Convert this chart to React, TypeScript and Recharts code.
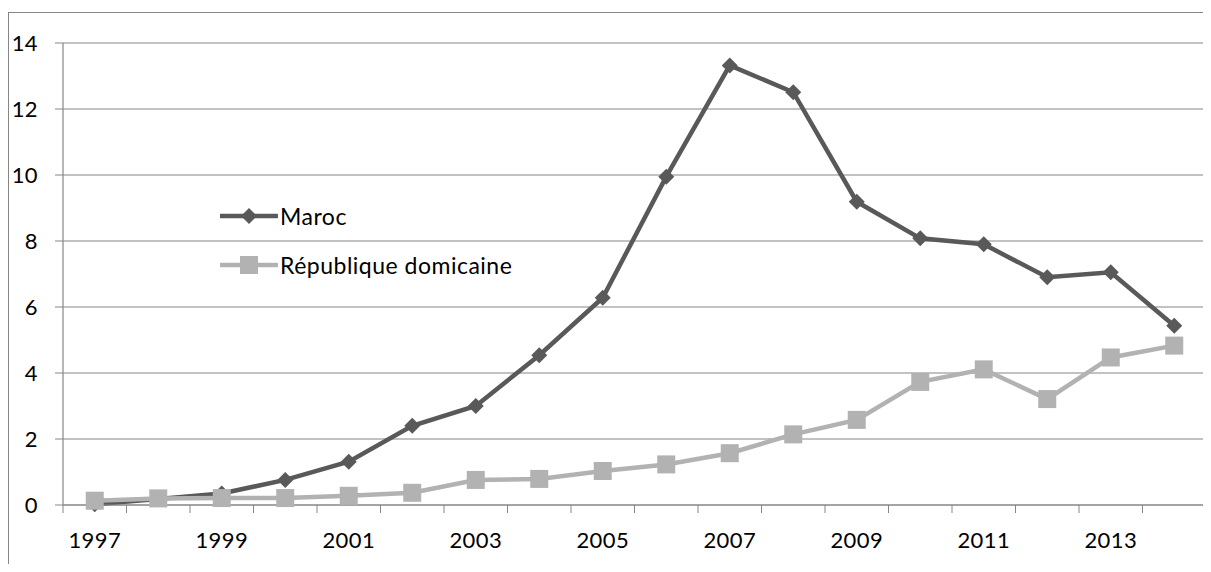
import { LineChart, Line, XAxis, YAxis, CartesianGrid } from 'recharts';

const years = [
  '1997', '1998', '1999', '2000', '2001', '2002', '2003', '2004', '2005',
  '2006', '2007', '2008', '2009', '2010', '2011', '2012', '2013', '2014',
];
const maroc = [0.02, 0.18, 0.35, 0.76, 1.31, 2.4, 3.0, 4.54, 6.28, 9.95, 13.32, 12.51, 9.19, 8.08, 7.9, 6.9, 7.05, 5.43];
const republiqueDom = [0.13, 0.2, 0.21, 0.21, 0.28, 0.37, 0.76, 0.79, 1.03, 1.23, 1.57, 2.14, 2.58, 3.73, 4.11, 3.21, 4.47, 4.83];
const yTicks = [0, 2, 4, 6, 8, 10, 12, 14];

const data = years.map((year, i) => ({ year, maroc: maroc[i], rd: republiqueDom[i] }));

const DARK = '#595959';
const LIGHT = '#B2B2B2';
const AXIS = '#868686';
const FONT = 'Lato, "Open Sans", sans-serif';

function Diamond({ cx, cy }: any) {
  if (cx == null || cy == null) return null;
  const r = 8;
  return (
    <polygon
      points={`${cx},${cy - r} ${cx + r},${cy} ${cx},${cy + r} ${cx - r},${cy}`}
      fill={DARK}
    />
  );
}

function Square({ cx, cy }: any) {
  if (cx == null || cy == null) return null;
  const s = 9;
  return <rect x={cx - s} y={cy - s} width={s * 2} height={s * 2} fill={LIGHT} />;
}

// Excel style: tick marks between categories, label every other year
function YearTick({ x, y, payload, index }: any) {
  const half = payload?.offset || 31.75;
  return (
    <g>
      <line x1={x - half} x2={x - half} y1={y} y2={y + 8} stroke={AXIS} />
      {index === years.length - 1 && (
        <line x1={x + half} x2={x + half} y1={y} y2={y + 8} stroke={AXIS} />
      )}
      {index % 2 === 0 && (
        <text x={x} y={y + 43} textAnchor="middle" fill="#000" fontSize={22} fontFamily={FONT} letterSpacing={0.4}>
          {payload.value}
        </text>
      )}
    </g>
  );
}

function LegendRow({ color, label, square }: { color: string; label: string; square?: boolean }) {
  return (
    <div style={{ display: 'flex', alignItems: 'center', height: 49 }}>
      <svg width={58} height={20}>
        <line x1={1} x2={57} y1={10} y2={10} stroke={color} strokeWidth={4.5} strokeLinecap="round" />
        {square ? (
          <rect x={20} y={1} width={18} height={18} fill={color} />
        ) : (
          <polygon points="29,2 37,10 29,18 21,10" fill={color} />
        )}
      </svg>
      <span style={{ marginLeft: 2, fontSize: 23, letterSpacing: 0.5, fontFamily: FONT, color: '#000' }}>{label}</span>
    </div>
  );
}

export default function App() {
  return (
    <div
      style={{
        position: 'relative',
        marginTop: 4,
        width: 1202,
        height: 551,
        borderLeft: `1px solid ${AXIS}`,
        borderTop: `1px solid ${AXIS}`,
        overflow: 'hidden',
      }}
    >
      <LineChart width={1202} height={549} data={data} margin={{ top: 30, right: 5, bottom: 17, left: 0 }}>
        <CartesianGrid vertical={false} stroke={AXIS} strokeWidth={1.2} />
        <XAxis
          dataKey="year"
          scale="band"
          interval={0}
          tickLine={false}
          tickSize={0}
          tickMargin={0}
          height={40}
          axisLine={{ stroke: AXIS, strokeWidth: 1.2 }}
          tick={<YearTick />}
        />
        <YAxis
          width={54}
          domain={[0, 14]}
          ticks={yTicks}
          interval={0}
          tickSize={8}
          tickMargin={17}
          axisLine={{ stroke: AXIS, strokeWidth: 1.2 }}
          tickLine={{ stroke: AXIS }}
          tick={{ fill: '#000', fontSize: 22, fontFamily: FONT, letterSpacing: 0.4 }}
        />
        <Line
          dataKey="maroc"
          name="Maroc"
          stroke={DARK}
          strokeWidth={4.5}
          dot={<Diamond />}
          activeDot={false}
          isAnimationActive={false}
        />
        <Line
          dataKey="rd"
          name="République domicaine"
          stroke={LIGHT}
          strokeWidth={4.5}
          dot={<Square />}
          activeDot={false}
          isAnimationActive={false}
        />
      </LineChart>
      <div style={{ position: 'absolute', left: 211, top: 178 }}>
        <LegendRow color={DARK} label="Maroc" />
        <LegendRow color={LIGHT} label="République domicaine" square />
      </div>
    </div>
  );
}
